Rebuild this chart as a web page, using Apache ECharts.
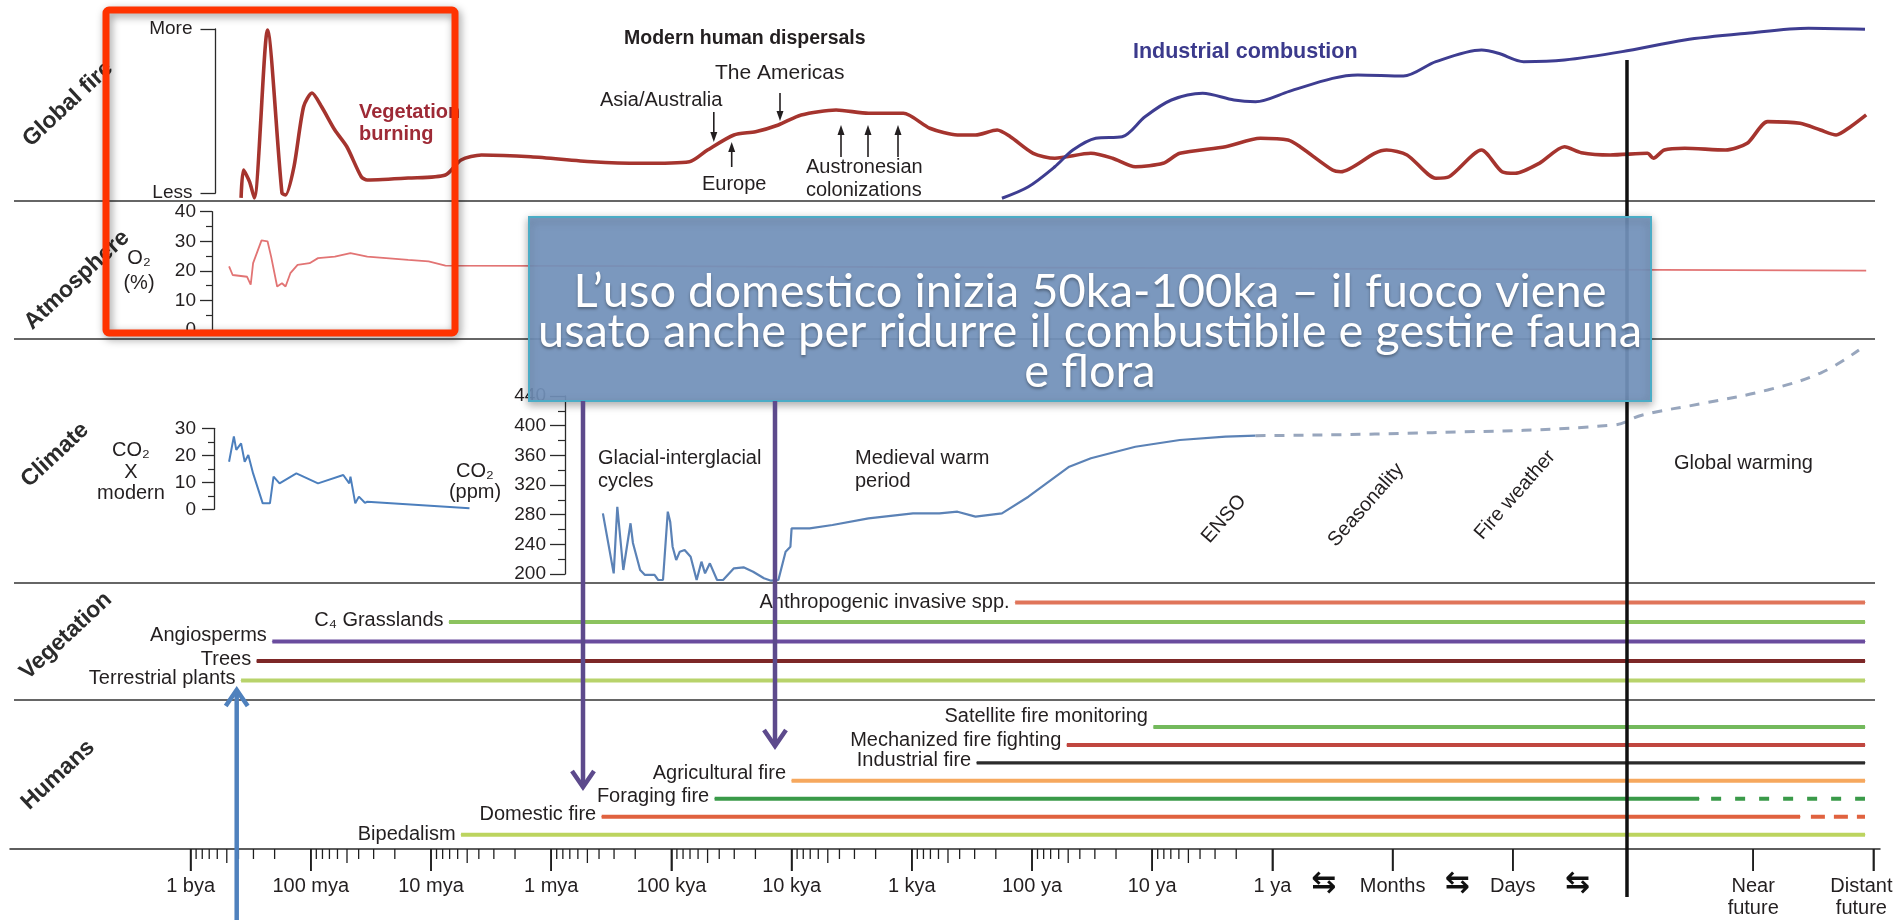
<!DOCTYPE html>
<html lang="it">
<head>
<meta charset="utf-8">
<title>Fire through time</title>
<script src="https://cdn.jsdelivr.net/npm/echarts@6.0.0/dist/echarts.min.js"></script>
<style>
  html, body { margin: 0; padding: 0; background: #fff; }
  #chart { width: 1899px; height: 920px; }
</style>
</head>
<body>
<div id="chart"></div>
<script>
// time axis: one unit per decade of "years ago" (0 = 1 bya ... 9 = 1 ya), then months, days, future
const timeTicks = [0, 1, 2, 3, 4, 5, 6, 7, 8, 9, 10, 11, 13, 14];
const timeLabels = ["1 bya", "100 mya", "10 mya", "1 mya", "100 kya", "10 kya", "1 kya", "100 ya", "10 ya", "1 ya", "Months", "Days", "Near\nfuture", "{far|Distant}\n{far|future}"];
const swapMarks = [9.43, 10.54, 11.54];
const presentAt = 11.95;

// global fire, relative scale 0 (Less) .. 100 (More)
const vegetationBurning = [[0.42,-3],[0.44,14],[0.49,6.9],[0.53,-3],[0.64,99.4],[0.76,0],[0.79,-1.2],[0.86,16],[0.94,52.6],[1.01,61],[1.09,52.6],[1.2,38.4],[1.3,28.2],[1.42,9.9],[1.47,7.9],[1.81,9.1],[2.12,11],[2.25,20.1],[2.42,23.2],[2.83,22.1],[3.34,19.1],[3.74,18.1],[4.15,19.1],[4.3,26.2],[4.52,35.4],[4.7,37.4],[4.89,41.5],[5.08,47.6],[5.37,50.6],[5.64,48.6],[5.93,48.6],[6.15,39.5],[6.38,35.4],[6.53,35.4],[6.71,38.4],[6.82,34.3],[7.01,24.2],[7.19,21.2],[7.49,24.2],[7.67,21.2],[7.86,16],[8.09,18.1],[8.23,24.2],[8.61,28.2],[8.9,33.4],[9.13,32.3],[9.23,28.2],[9.5,14],[9.57,13],[9.85,24.2],[9.95,26.2],[10.12,23.2],[10.36,9],[10.47,9.9],[10.74,26.2],[10.91,13],[11.02,12],[11.22,18.1],[11.43,28.2],[11.57,24.6],[11.81,23.2],[12.12,24.2],[12.17,21.2],[12.26,26.2],[12.43,27.3],[12.77,26.2],[12.95,30.3],[13.12,43.5],[13.39,42.5],[13.56,38.4],[13.69,35.4],[13.81,40.4],[13.94,47.6]];
const industrialCombustion = [[6.75,-3.2],[6.97,3.8],[7.19,16],[7.34,26.2],[7.53,33.4],[7.75,34.3],[7.94,46.5],[8.16,56.7],[8.42,60.8],[8.68,56.7],[8.86,55.7],[9.14,62],[9.5,69.9],[9.71,72],[10.09,71.3],[10.36,80.1],[10.74,87.2],[10.88,85.2],[11.09,80.1],[11.43,81.1],[11.91,86.2],[12.43,93.3],[12.95,97.4],[13.46,100.4],[13.93,99.8]];

// atmosphere O2 (%)
const oxygen = [[0.32,21.5],[0.35,18.6],[0.47,18],[0.5,15.3],[0.52,22.6],[0.59,30.3],[0.64,30],[0.67,24.8],[0.72,14.7],[0.76,15.8],[0.79,14.7],[0.83,19.2],[0.89,22],[0.99,22.6],[1.06,24.3],[1.2,24.8],[1.33,26],[1.47,24.8],[1.81,23.7],[1.98,23.2],[2.12,21.8],[3.74,21.6],[13.94,20.1]];

// climate: CO2 x modern, CO2 ppm, projection
const co2Modern = [[0.32,17.6],[0.36,27],[0.38,22],[0.42,24.4],[0.45,17.6],[0.48,20.1],[0.52,13.3],[0.6,2.2],[0.66,2.2],[0.69,12.1],[0.74,9.6],[0.88,13.3],[1.06,9.6],[1.27,12.7],[1.32,9.6],[1.33,12.1],[1.37,2.2],[1.4,4.7],[1.45,2.4],[1.47,2.8],[2.32,0.4]];
const co2Ppm = [[3.43,281.8],[3.52,200.9],[3.55,290.7],[3.6,205.4],[3.66,268.4],[3.68,241.8],[3.74,205.4],[3.78,198.7],[3.86,198.7],[3.89,191.9],[3.93,191.9],[3.97,284],[3.99,270.5],[4.01,236.8],[4.04,218.9],[4.07,230.1],[4.11,232.4],[4.16,223.3],[4.21,191.9],[4.25,216.6],[4.28,200.9],[4.32,214.4],[4.38,191.9],[4.43,191.9],[4.52,207.7],[4.6,209],[4.68,203.1],[4.77,194.2],[4.83,191],[4.89,191.9],[4.95,230.1],[4.99,236.8],[5.0,261.6],[5.15,261.6],[5.34,266.1],[5.64,275.1],[6.01,281.8],[6.23,281.8],[6.38,284],[6.53,277.3],[6.75,281.8],[6.97,304.2],[7.12,322.3],[7.31,344.7],[7.49,356],[7.86,371.6],[8.23,380.7],[8.61,385.1],[8.86,386.5]];
const co2Projection = [[8.86,386.5],[10.33,390.5],[11.84,400.9],[12.08,414.4],[12.6,430.6],[13.12,448.1],[13.56,471],[13.88,502]];

// vegetation and human timelines (start of each bar on the time axis)
const vegetationRows = ["Anthropogenic invasive spp.", "C\u2084 Grasslands", "Angiosperms", "Trees", "Terrestrial plants"];
const vegetationStart = [6.86, 2.15, 0.68, 0.55, 0.42];
const humanRows = ["Satellite fire monitoring", "Mechanized fire fighting", "Industrial fire", "Agricultural fire", "Foraging fire", "Domestic fire", "Bipedalism"];
const humanStart = [8.01, 7.29, 6.54, 5.0, 4.36, 3.42, 2.25];
const humanSolidEnd = [13.93, 13.93, 13.93, 13.93, 12.55, 13.39, 13.93];
const humanDashFrom = [null, null, null, null, 12.65, 13.48, null];
const rowEnd = 13.93;

const calloutLines = ["L\u2019uso domestico inizia 50ka-100ka \u2013 il fuoco viene", "usato anche per ridurre il combustibile e gestire fauna", "e flora"];

// styles
const FONT = '"Liberation Sans", Arial, Helvetica, sans-serif';
const INK = "#231f20";
const vegetationColors = ["#e0755a", "#8cc35f", "#6a4c9e", "#7d2727", "#b8d36b"];
const humanColors = ["#73b95c", "#c0463f", "#2b2b2b", "#f6a85e", "#3a9a49", "#e0623f", "#bcd45f"];
const vegetationLabelDy = [0, -2, -6, -2, -2];
const humanLabelDy = [-10, -4, -2, -7, -2, -2, 0];
const TICK_MAJOR = 22, TICK_MID = 14, TICK_MINOR = 10;

const PX0 = 190.6, PX_PER_DECADE = 120.2, RIGHT_PX = 1880;
const panels = [
  { left: 215.5, top: 29, height: 164 },   // 0 global fire
  { left: 212, top: 211.7, height: 118.3 },// 1 O2
  { left: 214, top: 428.3, height: 81 },   // 2 CO2 x modern
  { left: 565, top: 396, height: 178 },    // 3 CO2 ppm
  { left: 10, top: 583, height: 117 },     // 4 vegetation
  { left: 10, top: 700, height: 149 },     // 5 humans + time axis
  { left: 10, top: 700, height: 149 }      // 6 swap glyphs
];

// minor log ticks at 2..9 inside decades 0..8
const minorTicks = [];
for (let d = 0; d < 9; d++) {
  for (let k = 2; k <= 9; k++) {
    minorTicks.push([d + 1 - Math.log10(k), k === 5 ? TICK_MID : TICK_MINOR]);
  }
}
const majorTicks = timeTicks.map(v => [v, TICK_MAJOR]);

const chart = echarts.init(document.getElementById("chart"));

const grids = panels.map(p => ({
  left: p.left, top: p.top, height: p.height, width: RIGHT_PX - p.left,
  containLabel: false, outerBoundsMode: "none"
}));

const xAxes = panels.map((p, i) => ({
  type: "value",
  gridIndex: i,
  min: (p.left - PX0) / PX_PER_DECADE,
  max: (RIGHT_PX - PX0) / PX_PER_DECADE,
  show: false,
  axisLine: { onZero: false },
  splitLine: { show: false }
}));
xAxes[5] = Object.assign(xAxes[5], {
  show: true,
  position: "bottom",
  axisLine: { show: true, onZero: false, lineStyle: { color: "#2a2a2a", width: 1.5 } },
  axisTick: { show: true, customValues: timeTicks, length: TICK_MAJOR, lineStyle: { color: "#1e1e1e", width: 1.5 } },
  axisLabel: {
    show: true, customValues: timeTicks, margin: 26, fontSize: 20, lineHeight: 22,
    fontFamily: FONT, color: INK,
    rich: { far: { fontSize: 20, lineHeight: 22, fontFamily: FONT, color: INK, padding: [0, 24, 0, 0] } },
    formatter: v => timeLabels[timeTicks.indexOf(v)] || ""
  }
});
xAxes[6] = Object.assign(xAxes[6], {
  show: true, position: "bottom",
  axisLine: { show: false, onZero: false },
  axisTick: { show: false },
  axisLabel: {
    show: true, customValues: swapMarks, margin: 20, fontSize: 30, fontWeight: "bold",
    fontFamily: '"DejaVu Sans", sans-serif', color: "#111", formatter: () => "\u21c6"
  }
});

const axisInk = { lineStyle: { color: "#2a2a2a", width: 1.3 } };
const numLabel = { fontSize: 19, fontFamily: FONT, color: INK };
const yAxes = [
  { gridIndex: 0, type: "value", min: 0, max: 100, interval: 100,
    axisLine: Object.assign({ show: true }, axisInk), axisTick: Object.assign({ show: true, length: 15 }, axisInk),
    axisLabel: Object.assign({ margin: 23, formatter: v => v === 100 ? "More" : (v === 0 ? "Less" : "") }, numLabel),
    splitLine: { show: false } },
  { gridIndex: 1, type: "value", min: 0, max: 40, interval: 10,
    axisLine: Object.assign({ show: true }, axisInk), axisTick: Object.assign({ show: true, length: 12 }, axisInk),
    minorTick: { show: true, splitNumber: 2, length: 6, lineStyle: { color: "#2a2a2a", width: 1.2 } },
    axisLabel: Object.assign({ margin: 16 }, numLabel), splitLine: { show: false } },
  { gridIndex: 2, type: "value", min: 0, max: 30, interval: 10,
    axisLine: Object.assign({ show: true }, axisInk), axisTick: Object.assign({ show: true, length: 12 }, axisInk),
    minorTick: { show: true, splitNumber: 2, length: 6, lineStyle: { color: "#2a2a2a", width: 1.2 } },
    axisLabel: Object.assign({ margin: 18 }, numLabel), splitLine: { show: false } },
  { gridIndex: 3, type: "value", min: 200, max: 440, interval: 40,
    axisLine: Object.assign({ show: true }, axisInk), axisTick: Object.assign({ show: true, length: 15 }, axisInk),
    minorTick: { show: true, splitNumber: 2, length: 7, lineStyle: { color: "#2a2a2a", width: 1.2 } },
    axisLabel: Object.assign({ margin: 19 }, numLabel), splitLine: { show: false } },
  { gridIndex: 4, type: "value", min: -1, max: 5, inverse: true, show: false },
  { gridIndex: 5, type: "value", min: -1.5, max: 6.8, inverse: true, show: false },
  { gridIndex: 6, type: "value", min: 0, max: 1, show: false }
];

const curve = (name, grid, data, color, width, extra) => Object.assign({
  type: "line", name, xAxisIndex: grid, yAxisIndex: grid, data,
  symbol: "none", clip: false, silent: true,
  lineStyle: { color, width }, z: 3
}, extra || {});

// tick marks hanging under the time axis, drawn as thin bars
const tickSeries = (name, data, width) => ({
  type: "custom", name, xAxisIndex: 5, yAxisIndex: 5, silent: true, clip: false, z: 30,
  data,
  renderItem: (params, api) => {
    const x = api.coord([api.value(0), 0])[0];
    const y0 = params.coordSys.y + params.coordSys.height;
    return {
      type: "rect",
      shape: { x: x - width / 2, y: y0, width, height: api.value(1) },
      style: { fill: "#1e1e1e" }
    };
  }
});

const series = [
  curve("Vegetation burning", 0, vegetationBurning, "#a5342e", 3.6, { smooth: 0.25 }),
  curve("Industrial combustion", 0, industrialCombustion, "#3e3d91", 3, { smooth: 0.3 }),
  curve("O2", 1, oxygen, "#e27474", 1.8),
  curve("CO2 x modern", 2, co2Modern, "#4c7fbd", 2),
  curve("CO2 ppm", 3, co2Ppm, "#5b82b6", 2.2),
  curve("CO2 projection", 3, co2Projection, "#98a6bd", 3, { smooth: 0.4, lineStyle: { color: "#98a6bd", width: 3, type: [10, 9] } }),
  tickSeries("minor ticks", minorTicks, 1.3),
  tickSeries("major ticks", majorTicks, 1.6)
];

const rowLabel = (name, dy) => ({
  show: true, position: "left", distance: 5, formatter: name, offset: [0, dy],
  fontSize: 20, fontFamily: FONT, color: INK
});
vegetationRows.forEach((name, k) => {
  series.push({
    type: "line", name, xAxisIndex: 4, yAxisIndex: 4, silent: true, clip: false,
    symbol: "circle", symbolSize: 1, itemStyle: { color: vegetationColors[k] },
    lineStyle: { color: vegetationColors[k], width: 4 },
    data: [{ value: [vegetationStart[k], k], label: rowLabel(name, vegetationLabelDy[k]) }, [rowEnd, k]]
  });
});
humanRows.forEach((name, k) => {
  series.push({
    type: "line", name, xAxisIndex: 5, yAxisIndex: 5, silent: true, clip: false,
    symbol: "circle", symbolSize: 1, itemStyle: { color: humanColors[k] },
    lineStyle: { color: humanColors[k], width: k === 2 ? 3.4 : 4 },
    data: [{ value: [humanStart[k], k], label: rowLabel(name, humanLabelDy[k]) }, [humanSolidEnd[k], k]]
  });
  if (humanDashFrom[k] !== null) {
    series.push({
      type: "line", name: name + " (future)", xAxisIndex: 5, yAxisIndex: 5, silent: true, clip: false,
      symbol: "none", lineStyle: { color: humanColors[k], width: 4, type: k === 4 ? [10, 14] : [14, 9] },
      data: [[humanDashFrom[k], k], [rowEnd, k]]
    });
  }
});

chart.setOption({
  animation: false,
  backgroundColor: "#fff",
  grid: grids,
  xAxis: xAxes,
  yAxis: yAxes,
  series
});

// ---- annotations ----
const text = (x, y, str, extra) => ({
  type: "text", x, y, z: 20, silent: true,
  style: Object.assign({ text: str, fontFamily: FONT, fontSize: 20, fill: INK, align: "left", verticalAlign: "middle" }, extra || {})
});
const tilted = (x, y, str, rot, extra) => Object.assign(text(x, y, str, Object.assign({ align: "center" }, extra || {})), { rotation: rot });
const tinyArrow = (x, from, to) => {
  const dir = to > from ? 1 : -1;
  return [
    { type: "line", z: 20, silent: true, shape: { x1: x, y1: from, x2: x, y2: to - dir * 6 }, style: { stroke: INK, lineWidth: 1.6 } },
    { type: "polygon", z: 20, silent: true, shape: { points: [[x - 3.5, to - dir * 10], [x + 3.5, to - dir * 10], [x, to]] }, style: { fill: INK } }
  ];
};
const bigArrow = (x, from, to, color) => {
  const dir = to > from ? 1 : -1;
  return [
    { type: "line", z: 40, silent: true, shape: { x1: x, y1: from, x2: x, y2: to - dir * 2 }, style: { stroke: color, lineWidth: 4.5 } },
    { type: "polyline", z: 40, silent: true, shape: { points: [[x - 11, to - dir * 16], [x, to], [x + 11, to - dir * 16]] }, style: { stroke: color, lineWidth: 4.5, fill: null } }
  ];
};

const presentX = chart.convertToPixel({ xAxisIndex: 5 }, presentAt);
const panelName = { fontWeight: "bold", fontSize: 23, fill: "#2b2b2b" };

const graphic = [];
[201, 339, 583, 700].forEach(y => graphic.push({
  type: "line", z: 1, silent: true, shape: { x1: 14, y1: y, x2: 1875, y2: y }, style: { stroke: "#333", lineWidth: 1.5 }
}));
graphic.push(
  tilted(68, 104, "Global fire", 0.75, panelName),
  tilted(77, 280, "Atmosphere", 0.75, panelName),
  tilted(55, 455, "Climate", 0.75, panelName),
  tilted(66, 636, "Vegetation", 0.75, panelName),
  tilted(58, 775, "Humans", 0.75, panelName),

  text(359, 112, "Vegetation", { fontWeight: "bold", fill: "#9e2a36" }),
  text(359, 134, "burning", { fontWeight: "bold", fill: "#9e2a36" }),
  text(624, 39, "Modern human dispersals", { fontWeight: "bold", fontSize: 19.5 }),
  text(715, 73, "The Americas", { fontSize: 21 }),
  text(600, 100, "Asia/Australia"),
  text(702, 184, "Europe"),
  text(806, 167, "Austronesian"),
  text(806, 190, "colonizations"),
  text(1133, 52, "Industrial combustion", { fontWeight: "bold", fontSize: 21.5, fill: "#3b3a8c" }),

  text(139, 258, "O\u2082", { align: "center" }),
  text(139, 283, "(%)", { align: "center" }),
  text(131, 450, "CO\u2082", { align: "center" }),
  text(131, 472, "X", { align: "center" }),
  text(131, 493, "modern", { align: "center" }),
  text(475, 471, "CO\u2082", { align: "center" }),
  text(475, 492, "(ppm)", { align: "center" }),
  text(598, 458, "Glacial-interglacial"),
  text(598, 481, "cycles"),
  text(855, 458, "Medieval warm"),
  text(855, 481, "period"),
  tilted(1224, 519, "ENSO", 0.85),
  tilted(1366, 505, "Seasonality", 0.85),
  tilted(1515, 495, "Fire weather", 0.85),
  text(1674, 463, "Global warming")
);
graphic.push(...tinyArrow(713.8, 112, 142), ...tinyArrow(780, 93, 121), ...tinyArrow(731.7, 167, 142));
[841, 868, 898].forEach(x => graphic.push(...tinyArrow(x, 157, 125)));

// present day
graphic.push({ type: "line", z: 25, silent: true, shape: { x1: presentX, y1: 60, x2: presentX, y2: 897 }, style: { stroke: "#111", lineWidth: 3.5 } });

// callout box
graphic.push({
  type: "rect", z: 30, silent: true, shape: { x: 529, y: 217, width: 1122, height: 184 },
  style: { fill: "rgba(118,150,192,0.9)", stroke: "#4bacc6", lineWidth: 2, shadowBlur: 8, shadowColor: "rgba(0,0,0,0.35)", shadowOffsetY: 3 }
});
graphic.push({
  type: "text", z: 31, silent: true, x: 1090, y: 332,
  style: {
    text: calloutLines.join("\n"), fontFamily: '"Lato", "Open Sans", sans-serif', fontSize: 47, lineHeight: 40,
    fill: "#fff", align: "center", verticalAlign: "middle",
    textShadowColor: "rgba(0,0,0,0.35)", textShadowBlur: 3, textShadowOffsetY: 1.5
  }
});
graphic.push(...bigArrow(583, 401, 787, "#5d4a8c"), ...bigArrow(775, 401, 746, "#5d4a8c"), ...bigArrow(236.7, 920, 690, "#4f81bd"));

// red highlight frame
graphic.push({
  type: "rect", z: 45, silent: true, shape: { x: 106, y: 10, width: 349, height: 323, r: 3 },
  style: { fill: null, stroke: "#ff3300", lineWidth: 7, shadowBlur: 8, shadowColor: "rgba(0,0,0,0.4)", shadowOffsetX: 2, shadowOffsetY: 3 }
});

chart.setOption({ graphic });
</script>
</body>
</html>
